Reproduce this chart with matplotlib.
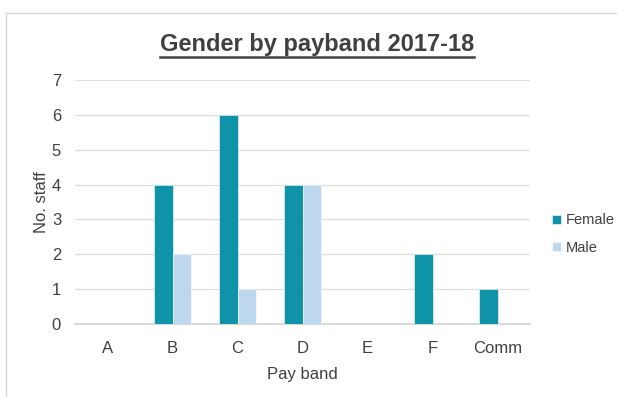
import matplotlib
matplotlib.use("Agg")
import matplotlib.pyplot as plt
import numpy as np
from matplotlib.lines import Line2D

plt.rcParams['font.family'] = ['Liberation Sans', 'DejaVu Sans']

bands = ["A", "B", "C", "D", "E", "F", "Comm"]
female = [0, 4, 6, 4, 0, 2, 1]
male = [0, 2, 1, 4, 0, 0, 0]
yticks = [0, 1, 2, 3, 4, 5, 6, 7]

female_color = "#0E93A8"
male_color = "#BDD7EE"
text_color = "#404040"

fig = plt.figure(figsize=(6.17, 3.97), dpi=100)
ax = fig.add_axes([75 / 617, 1 - 324 / 397, 455 / 617, 244 / 397])

x = np.arange(len(bands))
w = 0.28
ax.bar(x - w / 2, female, width=w, color=female_color, edgecolor="white",
       linewidth=0.4, label="Female", zorder=3)
ax.bar(x + w / 2, male, width=w, color=male_color, edgecolor="white",
       linewidth=0.4, label="Male", zorder=3)

ax.set_xlim(-0.5, len(bands) - 0.5)
ax.set_ylim(0, 7)
ax.set_yticks(yticks)
ax.set_xticks(x)
ax.set_xticklabels(bands)
ax.tick_params(axis="both", length=0, labelsize=12, labelcolor=text_color)
ax.tick_params(axis="y", pad=10)
ax.tick_params(axis="x", pad=12)
ax.grid(axis="y", color="#DEDEDE", linewidth=0.9, zorder=0)
for s in ["top", "right", "left"]:
    ax.spines[s].set_visible(False)
ax.spines["bottom"].set_color("#D9D9D9")
ax.spines["bottom"].set_linewidth(1.5)

ax.set_ylabel("No. staff", fontsize=12, color=text_color, labelpad=2)
ax.set_xlabel("Pay band", fontsize=12, color=text_color, labelpad=8)

title = fig.text(317 / 617, 1 - 44 / 397, "Gender by payband 2017-18",
                 ha="center", va="center", fontsize=17, fontweight="bold",
                 color=text_color)
fig.canvas.draw()
bb = title.get_window_extent()
uy = 1 - 57 / 397
fig.add_artist(Line2D([bb.x0 / fig.bbox.width, bb.x1 / fig.bbox.width], [uy, uy],
                      color=text_color, linewidth=1.8))

leg = fig.legend(handles=ax.get_legend_handles_labels()[0],
                 labels=["Female", "Male"],
                 loc="center left", bbox_to_anchor=(546 / 617, 1 - 234 / 397),
                 frameon=False, fontsize=10.5, handlelength=0.6, handleheight=0.6,
                 handletextpad=0.35, labelspacing=0.9, labelcolor=text_color,
                 borderpad=0.2, borderaxespad=0.2)

# outer chart frame
fig.add_artist(Line2D([6 / 617, 6 / 617], [0, 1 - 13 / 397], color="#D9D9D9", linewidth=1))
fig.add_artist(Line2D([6 / 617, 1], [1 - 13 / 397, 1 - 13 / 397], color="#D9D9D9", linewidth=1))

fig.savefig("out.png", dpi=100)
